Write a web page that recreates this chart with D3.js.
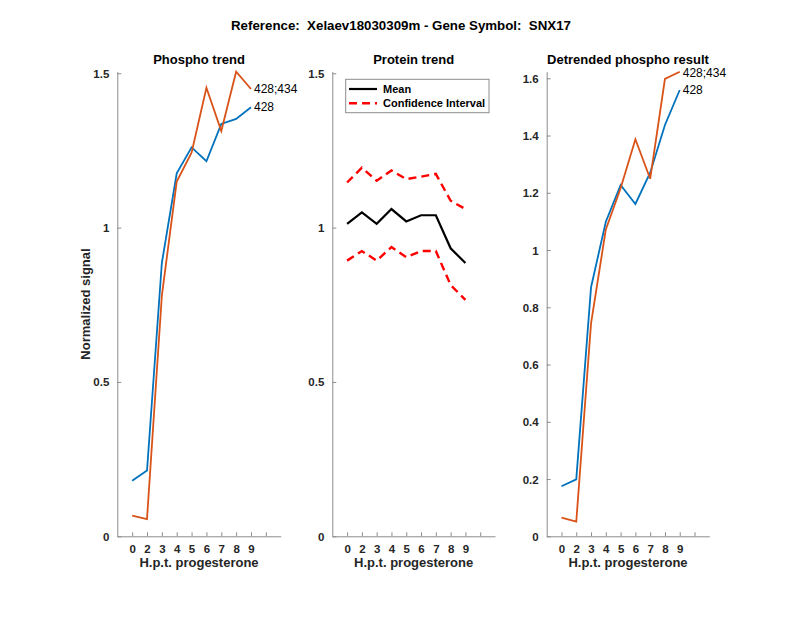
<!DOCTYPE html>
<html>
<head>
<meta charset="utf-8">
<script src="https://cdn.jsdelivr.net/npm/d3@7"></script>
<style>
  body { margin: 0; background: #fff; }
  text { font-family: "Liberation Sans", Arial, sans-serif; }
</style>
</head>
<body>
<div class="chart"></div>
<script>
// time points (h.p.t. progesterone), plotted at positions 1..10
const hours = [0, 2, 3, 4, 5, 6, 7, 8, 9];

// phospho trend
const phospho428 = [0.180, 0.213, 0.886, 1.176, 1.260, 1.215, 1.336, 1.352, 1.390];
const phospho428434 = [0.067, 0.056, 0.780, 1.149, 1.243, 1.453, 1.313, 1.505, 1.449];

// protein trend
const proteinMean = [1.012, 1.049, 1.012, 1.060, 1.020, 1.040, 1.040, 0.933, 0.885];
const proteinUpper = [1.146, 1.194, 1.152, 1.185, 1.157, 1.165, 1.174, 1.087, 1.060];
const proteinLower = [0.893, 0.924, 0.893, 0.937, 0.904, 0.924, 0.924, 0.814, 0.766];

// detrended phospho
const detr428 = [0.175, 0.199, 0.870, 1.099, 1.227, 1.161, 1.270, 1.437, 1.559];
const detr428434 = [0.065, 0.051, 0.744, 1.072, 1.216, 1.387, 1.249, 1.598, 1.623];

const leftTicks = [0, 0.5, 1, 1.5];
const rightTicks = [0, 0.2, 0.4, 0.6, 0.8, 1, 1.2, 1.4, 1.6];

const blue = '#0072BD';
const orange = '#D95319';
const axisColor = '#8c8c8c';
const textColor = '#262626';

const svg = d3.select('.chart').append('svg')
    .attr('width', 800)
    .attr('height', 618);

const yTop = 71.7, yBottom = 536.3;

svg.append('text')
    .attr('x', 401).attr('y', 30)
    .attr('text-anchor', 'middle')
    .attr('font-size', 13.3).attr('font-weight', 'bold')
    .attr('fill', '#000')
    .attr('xml:space', 'preserve')
    .text('Reference:  Xelaev18030309m - Gene Symbol:  SNX17');

function panel(x0, x1, ymax, ticks, title) {
    const xScale = d3.scaleLinear().domain([0, 11]).range([x0, x1]);
    const yScale = d3.scaleLinear().domain([0, ymax]).range([yBottom, yTop]);
    const g = svg.append('g');

    const xAxis = d3.axisBottom(xScale)
        .tickValues(d3.range(1, 11))
        .tickFormat((d, i) => hours[i])
        .tickSizeInner(-4).tickSizeOuter(0).tickPadding(9);
    const yAxis = d3.axisLeft(yScale)
        .tickValues(ticks)
        .tickFormat(d3.format('~g'))
        .tickSizeInner(-4).tickSizeOuter(0).tickPadding(8);

    const gx = g.append('g').attr('transform', `translate(0,${yBottom})`).call(xAxis);
    const gy = g.append('g').attr('transform', `translate(${x0},0)`).call(yAxis);
    [gx, gy].forEach(a => {
        a.select('.domain').attr('stroke', axisColor);
        a.selectAll('.tick line').attr('stroke', axisColor);
        a.selectAll('.tick text')
            .attr('font-size', 11.5).attr('font-weight', 'bold')
            .attr('fill', textColor)
            .style('font-family', '"Liberation Sans", Arial, sans-serif');
    });
    gy.selectAll('.tick text').attr('dy', '0.35em');

    g.append('text')
        .attr('x', (x0 + x1) / 2).attr('y', 567)
        .attr('text-anchor', 'middle')
        .attr('font-size', 13).attr('font-weight', 'bold')
        .attr('fill', textColor)
        .text('H.p.t. progesterone');

    g.append('text')
        .attr('x', (x0 + x1) / 2).attr('y', 64)
        .attr('text-anchor', 'middle')
        .attr('font-size', 13).attr('font-weight', 'bold')
        .attr('fill', '#000')
        .text(title);

    const line = d3.line()
        .x((d, i) => xScale(i + 1))
        .y(d => yScale(d));

    return { g, xScale, yScale, line };
}

function series(p, values, color, width, dash) {
    p.g.append('path')
        .datum(values)
        .attr('d', p.line)
        .attr('fill', 'none')
        .attr('stroke', color)
        .attr('stroke-width', width)
        .attr('stroke-dasharray', dash || null)
        .attr('stroke-linejoin', 'miter');
}

function endLabel(p, values, label, shift) {
    const n = values.length;
    p.g.append('text')
        .attr('x', p.xScale(n) + 3)
        .attr('y', p.yScale(values[n - 1]) + (shift || 0))
        .attr('dy', '0.35em')
        .attr('font-size', 12)
        .attr('fill', '#000')
        .text(label);
}

// Phospho trend
const p1 = panel(117.3, 280.7, 1.505, leftTicks, 'Phospho trend');
series(p1, phospho428, blue, 1.8);
series(p1, phospho428434, orange, 1.8);
endLabel(p1, phospho428434, '428;434');
endLabel(p1, phospho428, '428');

p1.g.append('text')
    .attr('transform', `translate(90,${(yTop + yBottom) / 2}) rotate(-90)`)
    .attr('text-anchor', 'middle')
    .attr('font-size', 13).attr('font-weight', 'bold')
    .attr('fill', textColor)
    .text('Normalized signal');

// Protein trend
const p2 = panel(332.3, 495, 1.505, leftTicks, 'Protein trend');
series(p2, proteinUpper, '#ff0000', 2.4, '8,5');
series(p2, proteinLower, '#ff0000', 2.4, '8,5');
series(p2, proteinMean, '#000', 2.2);

// legend
const lg = p2.g.append('g');
lg.append('rect')
    .attr('x', 345.7).attr('y', 79.3)
    .attr('width', 143.3).attr('height', 33.4)
    .attr('fill', '#fff')
    .attr('stroke', axisColor).attr('stroke-width', 1);
const legendItems = [
    { label: 'Mean', color: '#000', dash: null, width: 2.2 },
    { label: 'Confidence Interval', color: '#ff0000', dash: '8,5', width: 2.4 }
];
legendItems.forEach((d, i) => {
    const y = 89 + i * 14.3;
    lg.append('line')
        .attr('x1', 349).attr('x2', 377)
        .attr('y1', y).attr('y2', y)
        .attr('stroke', d.color).attr('stroke-width', d.width)
        .attr('stroke-dasharray', d.dash);
    lg.append('text')
        .attr('x', 383).attr('y', y)
        .attr('dy', '0.35em')
        .attr('font-size', 11).attr('font-weight', 'bold')
        .attr('fill', '#000')
        .text(d.label);
});

// Detrended phospho result
const p3 = panel(546.7, 709.3, 1.623, rightTicks, 'Detrended phospho result');
series(p3, detr428, blue, 1.8);
series(p3, detr428434, orange, 1.8);
endLabel(p3, detr428434, '428;434', 1.5);
endLabel(p3, detr428, '428');
</script>
</body>
</html>
